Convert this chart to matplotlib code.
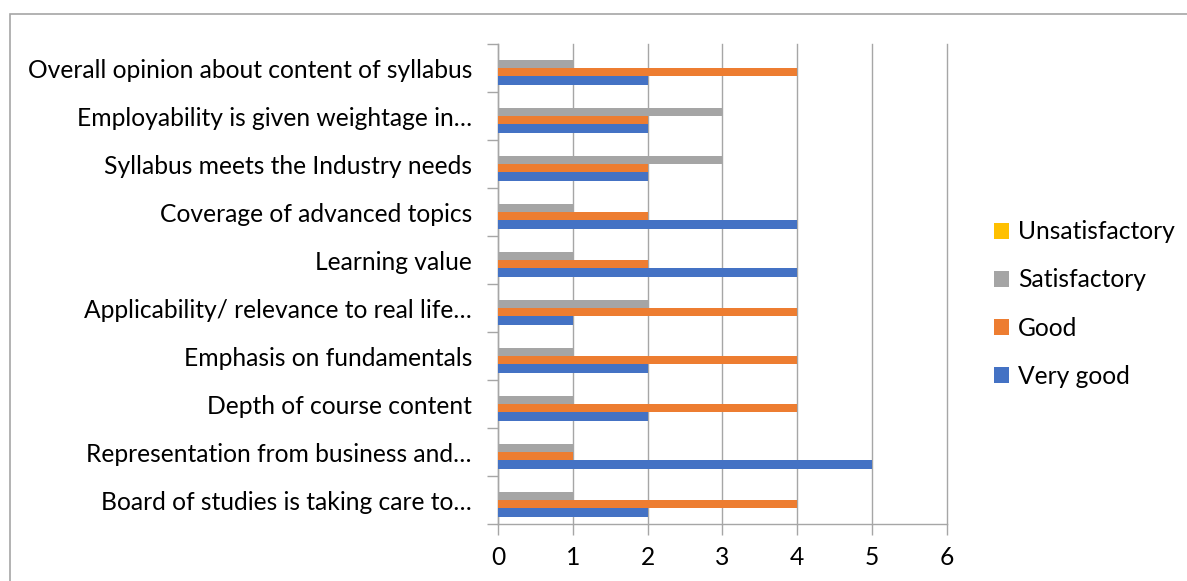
import matplotlib
matplotlib.use("Agg")
import matplotlib.pyplot as plt
import numpy as np
from matplotlib.patches import Rectangle

plt.rcParams['font.family'] = ['Lato', 'DejaVu Sans']

categories = [
    "Board of studies is taking care to…",
    "Representation from business and…",
    "Depth of course content",
    "Emphasis on fundamentals",
    "Applicability/ relevance to real life…",
    "Learning value",
    "Coverage of advanced topics",
    "Syllabus meets the Industry needs",
    "Employability is given weightage in…",
    "Overall opinion about content of syllabus",
]
very_good = [2, 5, 2, 2, 1, 4, 4, 2, 2, 2]
good = [4, 1, 4, 4, 4, 2, 2, 2, 2, 4]
satisfactory = [1, 1, 1, 1, 2, 1, 1, 3, 3, 1]
unsatisfactory = [0, 0, 0, 0, 0, 0, 0, 0, 0, 0]
series_names = ["Very good", "Good", "Satisfactory", "Unsatisfactory"]
colors = ["#4472C4", "#ED7D31", "#A5A5A5", "#FFC000"]
xticks = [0, 1, 2, 3, 4, 5, 6]

W, H = 1187, 581
FS = 17.7
fig = plt.figure(figsize=(W / 100, H / 100), dpi=100)
ax = fig.add_axes([498.3 / W, 1 - 524 / H, 448.2 / W, (524 - 44) / H])

y = np.arange(len(categories))
bh = 0.173
data = [very_good, good, satisfactory, unsatisfactory]
handles = []
for i, (vals, name, c) in enumerate(zip(data, series_names, colors)):
    off = (i - 1.5) * bh
    b = ax.barh(y + off, vals, height=bh, color=c, label=name, zorder=3)
    handles.append(b)

ax.set_ylim(-0.5, len(categories) - 0.5)
ax.set_xlim(0, 6)
ax.set_xticks(xticks)
ax.set_xticklabels([str(t) for t in xticks], fontsize=FS)
ax.set_yticks(y)
ax.set_yticklabels(categories, fontsize=FS)
ax.tick_params(axis='y', length=0, pad=19)
ax.set_yticks(np.arange(-0.5, len(categories), 1.0), minor=True)
ax.tick_params(axis='y', which='minor', length=8, color='#A6A6A6', width=1)
ax.tick_params(axis='x', length=8, color='#A6A6A6', width=1, pad=8)
for t in xticks:
    ax.axvline(t, color='#A6A6A6', linewidth=1, zorder=0, clip_on=False)
for s in ['top', 'right']:
    ax.spines[s].set_visible(False)
for s in ['left', 'bottom']:
    ax.spines[s].set_color('#A6A6A6')
    ax.spines[s].set_linewidth(1)

leg = fig.legend(handles[::-1], series_names[::-1], loc='center left',
                 bbox_to_anchor=(994 / W, 1 - 304 / H), frameon=False,
                 fontsize=FS, handlelength=0.62, handleheight=0.62,
                 labelspacing=1.02, handletextpad=0.35, borderpad=0,
                 borderaxespad=0)

fig.patches.append(Rectangle((10 / W, -0.1), 2, 1 - 14 / H + 0.1,
                             transform=fig.transFigure, fill=False,
                             edgecolor='#A6A6A6', linewidth=1.2))

fig.savefig("out.png", dpi=100)
